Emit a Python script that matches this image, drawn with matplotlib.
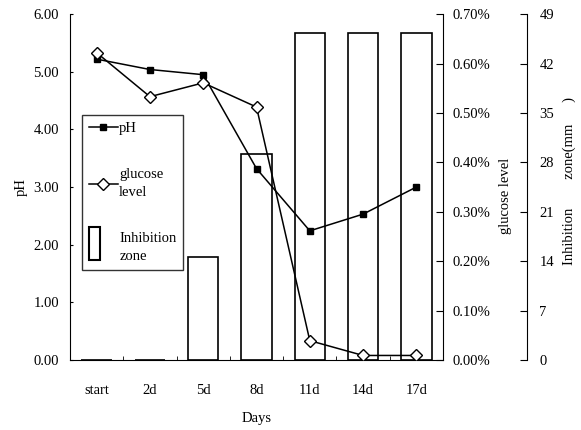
import numpy as np
import matplotlib.pyplot as plt
from matplotlib.patches import Rectangle
from matplotlib.lines import Line2D
from matplotlib.legend_handler import HandlerPatch
from matplotlib.ticker import FixedLocator, FuncFormatter

plt.rcParams['font.family'] = ['Liberation Serif', 'DejaVu Serif']
plt.rcParams['font.size'] = 10.5

days = ["start", "2d", "5d", "8d", "11d", "14d", "17d"]
ph = [5.22, 5.04, 4.95, 3.32, 2.24, 2.53, 3.00]
glucose = [0.622, 0.533, 0.561, 0.512, 0.039, 0.009, 0.009]   # percent
inhibition = [0, 0, 14.6, 29.2, 46.3, 46.3, 46.3]              # mm

x = np.arange(len(days))

fig = plt.figure(figsize=(5.81, 4.30), dpi=100)
ax = fig.add_axes([0.1205, 0.163, 0.642, 0.804])
ax_inh = ax.twinx()
ax_glu = ax.twinx()
ax_inh.set_zorder(0)
ax.set_zorder(1)
ax_glu.set_zorder(2)
ax.patch.set_visible(False)
ax_glu.patch.set_visible(False)

# bars for inhibition zone
ax_inh.bar(x, inhibition, width=0.57, facecolor='white', edgecolor='black', linewidth=1.2)
ax_inh.set_ylim(0, 49)
ax_inh.set_yticks(np.arange(0, 50, 7))
ax_inh.spines['right'].set_position(('axes', 1.225))
ax_inh.tick_params(axis='y', direction='in', length=5, pad=9)
ax_inh.set_ylabel("Inhibition        zone(mm      )")
ax_inh.yaxis.set_label_coords(1.32, 0.517)

# pH line
ax.plot(x, ph, color='black', marker='s', markersize=5, linewidth=1.1)
ax.set_ylim(0, 6)
ax.set_yticks(np.arange(0, 6.01, 1))
ax.yaxis.set_major_formatter(FuncFormatter(lambda v, p: f"{v:.2f}"))
ax.tick_params(axis='y', direction='in', length=2, pad=8)
ax.set_ylabel("pH", labelpad=4)

# glucose line
ax_glu.plot(x, glucose, color='black', marker='D', markersize=6, markerfacecolor='white',
            markeredgecolor='black', linewidth=1.1)
ax_glu.set_ylim(0, 0.7)
ax_glu.set_yticks(np.arange(0, 0.701, 0.1))
ax_glu.yaxis.set_major_formatter(FuncFormatter(lambda v, p: f"{v:.2f}%"))
ax_glu.tick_params(axis='y', direction='in', length=5, pad=7)
ax_glu.set_ylabel("glucose level")
ax_glu.yaxis.set_label_coords(1.15, 0.475)

ax.set_xlim(-0.5, len(days) - 0.5)
ax.set_xticks(x)
ax.set_xticklabels(days)
ax.tick_params(axis='x', length=0, pad=17)
ax.xaxis.set_minor_locator(FixedLocator(np.arange(-0.5, len(days), 1.0)))
ax.tick_params(axis='x', which='minor', direction='in', length=3)
ax.set_xlabel("Days", labelpad=11)

for a in (ax, ax_inh, ax_glu):
    a.spines['top'].set_visible(False)
ax.spines['right'].set_visible(False)
ax_inh.spines['left'].set_visible(False)
ax_glu.spines['left'].set_visible(False)
ax_inh.spines['bottom'].set_visible(False)
ax_glu.spines['bottom'].set_visible(False)


def tall_rect(legend, orig_handle, xdescent, ydescent, width, height, fontsize):
    return Rectangle((-xdescent, -ydescent - height * 0.7), width * 0.4, height * 3.2)


handles = [
    Line2D([], [], color='black', marker='s', markersize=5, linewidth=1.1),
    Line2D([], [], color='black', marker='D', markersize=6, markerfacecolor='white', linewidth=1.1),
    Rectangle((0, 0), 1, 1, facecolor='white', edgecolor='black', linewidth=1.5),
]
labels = ["pH", "glucose\nlevel", "Inhibition\nzone"]
leg = ax_glu.legend(handles, labels, loc='upper left', bbox_to_anchor=(0.032, 0.708),
                    frameon=True, fancybox=False, edgecolor='black', handlelength=2.0,
                    handletextpad=0.1, labelspacing=2.3, borderpad=0.45, borderaxespad=0,
                    fontsize=10.5, handler_map={Rectangle: HandlerPatch(patch_func=tall_rect)})
leg.get_frame().set_linewidth(1.0)
for t in leg.get_texts():
    t.set_linespacing(1.45)

fig.savefig("out.png", dpi=100)
